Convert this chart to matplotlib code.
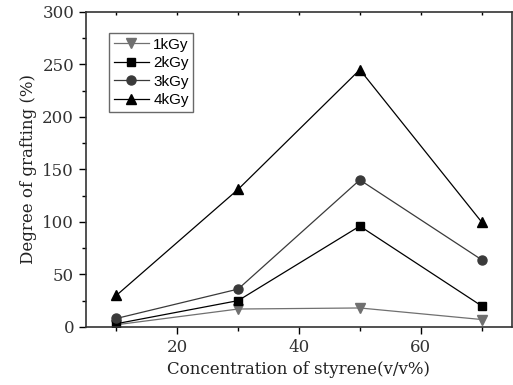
import matplotlib
matplotlib.use("Agg")
import matplotlib.pyplot as plt
from matplotlib.ticker import MultipleLocator

conc = [10, 30, 50, 70]
g1 = [2, 17, 18, 7]
g2 = [3, 25, 96, 20]
g3 = [8, 36, 140, 64]
g4 = [30, 131, 245, 100]
labels = ["1kGy", "2kGy", "3kGy", "4kGy"]

fig = plt.figure(figsize=(5.13, 3.85), dpi=100)
ax = fig.add_axes([0.1676, 0.151, 0.8304, 0.818])

ax.plot(conc, g1, color="#707070", marker="v", ms=7, lw=0.9, label=labels[0])
ax.plot(conc, g2, color="black", marker="s", ms=6, lw=0.9, label=labels[1])
ax.plot(conc, g3, color="#3a3a3a", marker="o", ms=6.5, lw=0.9, label=labels[2])
ax.plot(conc, g4, color="black", marker="^", ms=7, lw=0.9, label=labels[3])

ax.set_xlim(5, 75)
ax.set_ylim(0, 300)
ax.xaxis.set_major_locator(MultipleLocator(20))
ax.xaxis.set_minor_locator(MultipleLocator(10))
ax.yaxis.set_major_locator(MultipleLocator(50))
ax.yaxis.set_minor_locator(MultipleLocator(25))

for s in ax.spines.values():
    s.set_linewidth(1.2)
    s.set_color("#333333")

ax.tick_params(which="major", direction="out", length=5, width=1, labelsize=12,
               top=False, right=False)
ax.tick_params(which="minor", direction="out", length=3, width=1, top=False)

sec = ax.secondary_xaxis("top")
sec.xaxis.set_major_locator(MultipleLocator(10))
sec.tick_params(direction="in", length=2, width=1, labeltop=False)
sec.spines["top"].set_visible(False)

for lab in ax.get_xticklabels() + ax.get_yticklabels():
    lab.set_family("DejaVu Serif")
    lab.set_color("#333333")

ax.set_xlabel("Concentration of styrene(v/v%)", family="DejaVu Serif", fontsize=12, color="#222222")
ax.set_ylabel("Degree of grafting (%)", family="DejaVu Serif", fontsize=12, color="#222222")

leg = ax.legend(loc="upper left", bbox_to_anchor=(0.054, 0.933), frameon=True, fancybox=False,
                prop={"family": "Liberation Sans", "size": 11}, handlelength=2.3,
                labelspacing=0.3, borderpad=0.3, handletextpad=0.3, borderaxespad=0)
leg.get_frame().set_edgecolor("#444444")
leg.get_frame().set_linewidth(1.0)

fig.savefig("out.png", dpi=100)
